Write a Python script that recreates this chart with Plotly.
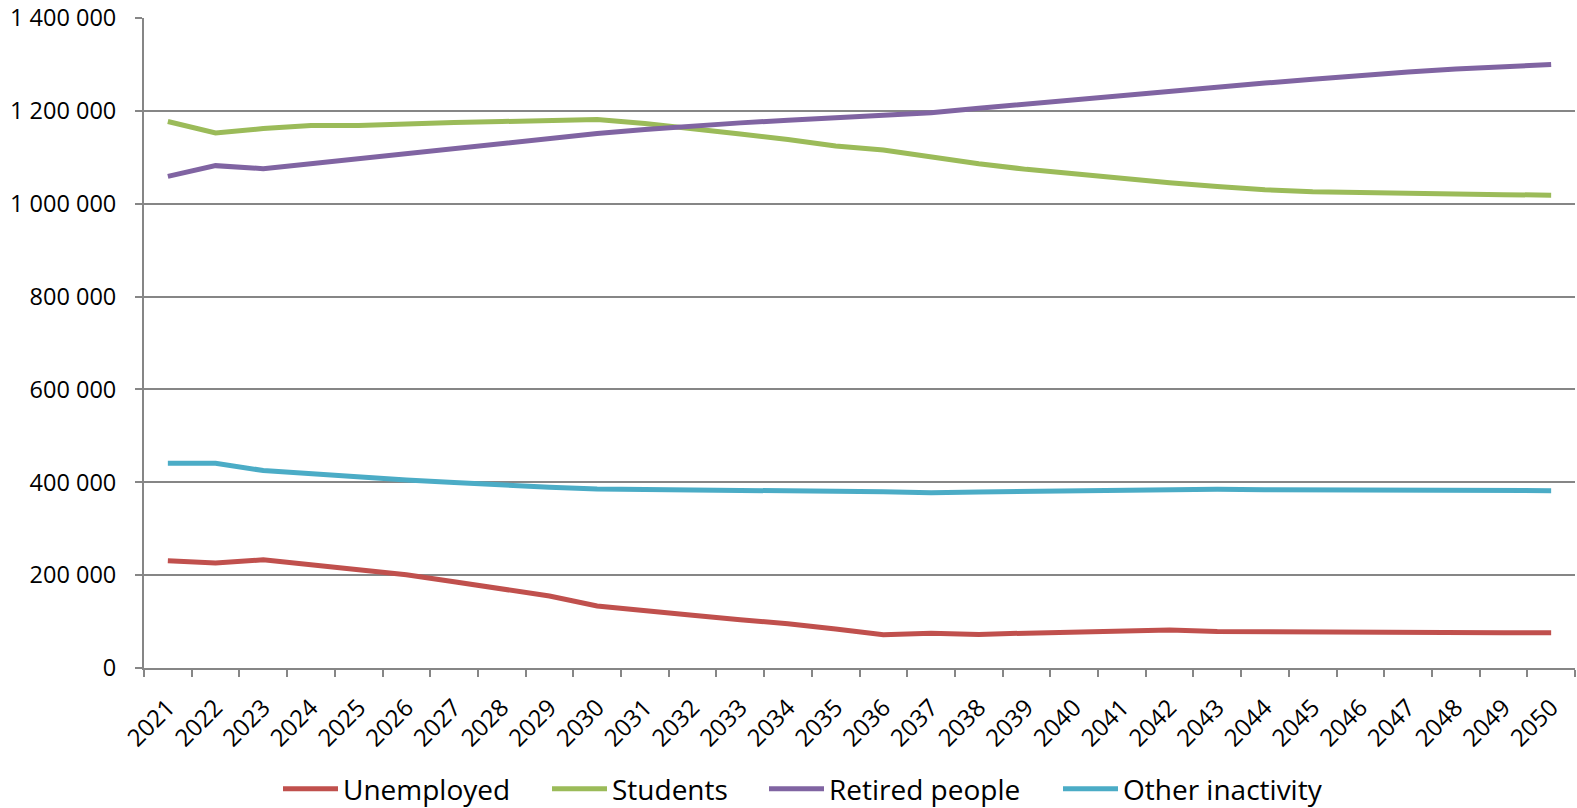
import plotly.graph_objects as go

years = [str(y) for y in range(2021, 2051)]

unemployed = [231000, 226000, 233000, 222400, 212300, 200800, 185600, 171200, 155200, 133600,
              122800, 113400, 104000, 95300, 83800, 71500, 75100, 72200, 75100, 76500,
              78700, 81600, 78700, 78000, 76500, 78000, 77300, 76500, 75800, 75800]

students = [1177000, 1152500, 1161900, 1168300, 1168300, 1172700, 1174800, 1177000, 1179900, 1181300,
            1172700, 1162600, 1150400, 1138100, 1124500, 1115500, 1100000, 1086000, 1074000, 1064000,
            1054000, 1045000, 1037000, 1030000, 1026000, 1023800, 1021600, 1020200, 1019500, 1018500]

retired = [1059000, 1082000, 1075500, 1086300, 1097100, 1109400, 1120100, 1130900, 1141000, 1151100,
           1159700, 1167600, 1174100, 1179900, 1185600, 1189000, 1196000, 1205800, 1215200, 1223800,
           1233200, 1241900, 1251300, 1259900, 1267900, 1276500, 1283800, 1290300, 1295300, 1299600]

other = [441200, 441200, 425300, 418000, 411600, 405100, 399300, 393500, 389200, 385600,
         384100, 382700, 382000, 381200, 380500, 379800, 377600, 379100, 380500, 381200,
         382000, 384100, 384800, 384100, 383400, 382700, 382700, 382000, 382000, 382000]

series_names = ["Unemployed", "Students", "Retired people", "Other inactivity"]
series_values = [unemployed, students, retired, other]
colors = ["#C0504D", "#9BBB59", "#8064A2", "#4BACC6"]
legend_ids = ["legend", "legend2", "legend3", "legend4"]

y_ticks = [0, 200000, 400000, 600000, 800000, 1000000, 1200000, 1400000]

font_family = "Open Sans, Lato, sans-serif"

L, R, T, B = 144, 2, 18, 140
W, H = 1577, 808

fig = go.Figure()
for name, vals, col, lg in zip(series_names, series_values, colors, legend_ids):
    fig.add_trace(go.Scatter(
        x=years, y=vals, name=name, mode="lines",
        line=dict(color=col, width=5), legend=lg,
    ))

# legend entry left edges (px from page left)
legend_px = [278, 547, 764, 1058]
legend_layout = {}
for lg, px in zip(legend_ids, legend_px):
    legend_layout[lg] = dict(
        orientation="h", xref="container", yref="container",
        x=px / W, xanchor="left",
        y=1 - 789 / H, yanchor="middle",
        font=dict(size=28, family=font_family, color="black"),
        itemwidth=55, bgcolor="rgba(0,0,0,0)", borderwidth=0,
    )

fig.update_layout(
    width=W, height=H,
    margin=dict(l=L, r=R, t=T, b=B, autoexpand=False),
    paper_bgcolor="white", plot_bgcolor="white",
    separators=". ",
    font=dict(family=font_family, size=23, color="black"),
    showlegend=True,
    xaxis=dict(
        type="category", range=[-0.5, 29.5], automargin=False,
        tickangle=-45, tickson="boundaries", ticks="outside", ticklen=7,
        tickcolor="#868686", tickwidth=1.5,
        showline=True, linecolor="#868686", linewidth=2,
        showgrid=False, tickfont=dict(size=24), ticklabelstandoff=14,
    ),
    yaxis=dict(
        range=[0, 1400000], tickvals=y_ticks, tickformat=",d", automargin=False,
        ticks="outside", ticklen=7, tickcolor="#868686", tickwidth=1.5,
        showline=True, linecolor="#868686", linewidth=2,
        showgrid=True, gridcolor="#868686", gridwidth=1.5,
        zeroline=False, tickfont=dict(size=23.5), ticklabelstandoff=14,
    ),
    **legend_layout,
)

fig.write_html("out.html")
